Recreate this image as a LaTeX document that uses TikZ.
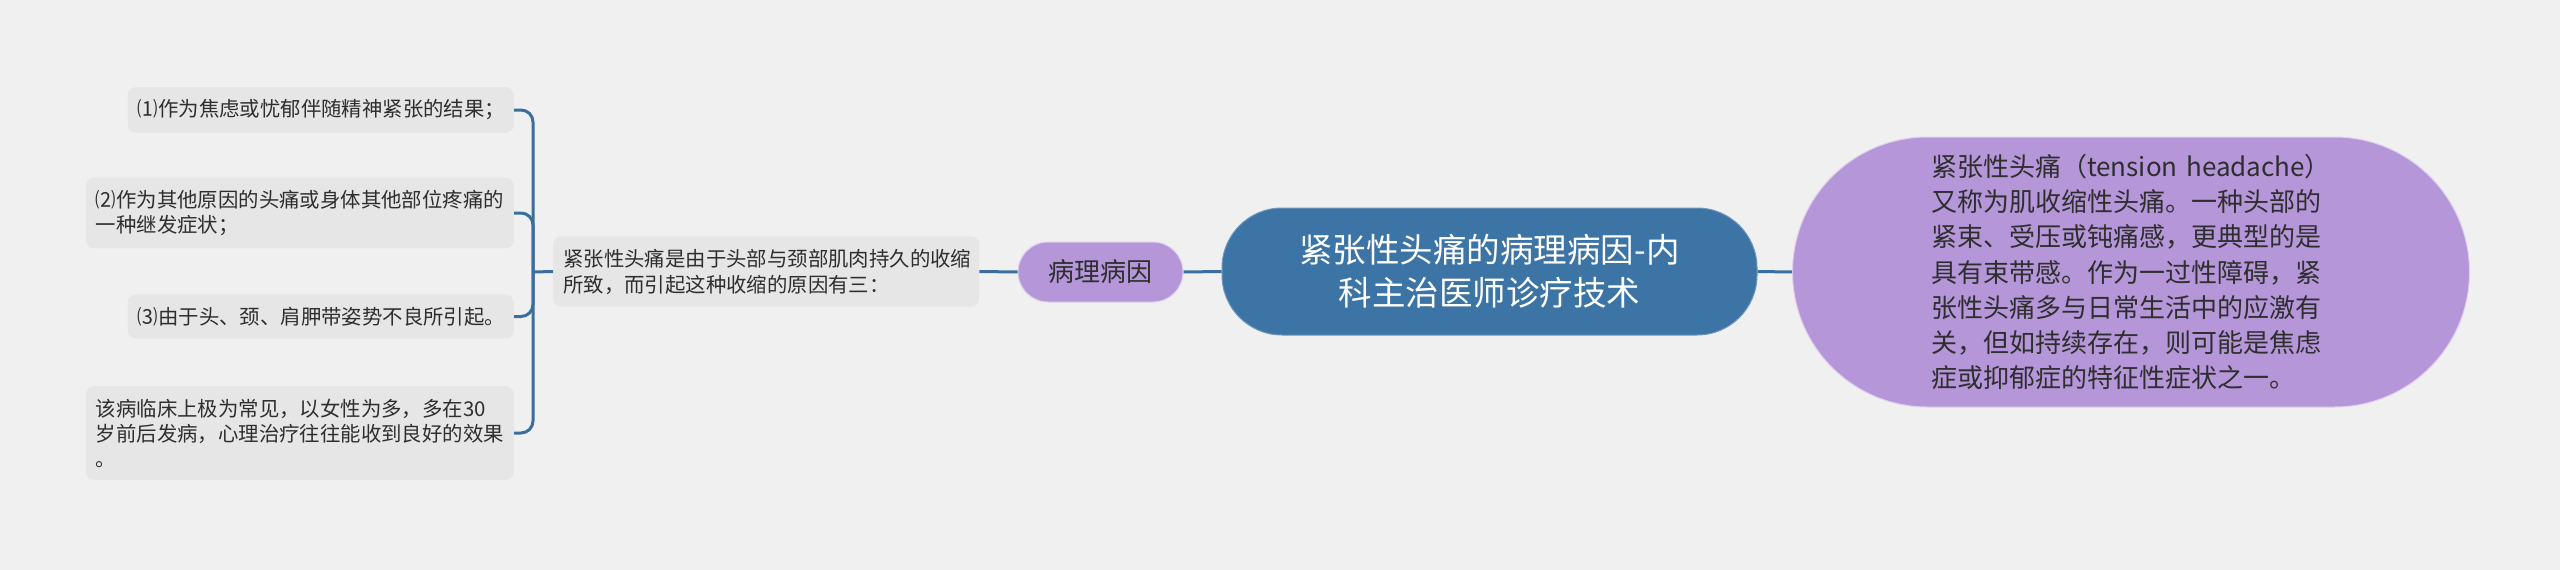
\documentclass[tikz,border=0pt]{standalone}
\usepackage{fontspec}
\setmainfont{Noto Sans CJK SC}
\usepackage{xcolor}
\usepackage{tikz}
\usetikzlibrary{positioning}

\definecolor{bgcol}{HTML}{F0F0F0}
\definecolor{leafcol}{HTML}{E6E6E6}
\definecolor{rootcol}{HTML}{3C74A5}
\definecolor{lilac}{HTML}{B596D9}
\definecolor{linecol}{HTML}{3A6E9F}
\definecolor{inkcol}{HTML}{2E2E2E}

\tikzset{
  link/.style={line width=3pt, draw=linecol, rounded corners=12pt},
  leaf/.style={fill=leafcol, rounded corners=8pt, text=inkcol, align=left,
    inner xsep=10pt, inner ysep=12.5pt, font=\fontsize{20.4}{25}\selectfont},
  pill/.style={fill=lilac, draw=white!55!lilac, line width=1pt, text=inkcol},
  rootbox/.style={fill=rootcol, draw=white!25!rootcol, line width=1pt, text=white,
    align=center, font=\fontsize{33.5}{43}\selectfont}
}

\begin{document}
\begin{tikzpicture}[x=1pt,y=-1pt]
    \fill[bgcol] (0,0) rectangle (2560,570);
    \useasboundingbox (0,0) rectangle (2560,570);
    % main topic and its two branches
    \node[rootbox, minimum width=535pt, minimum height=127pt, rounded corners=60pt]
      (root) at (1489.5,271.5) {紧张性头痛的病理病因-内\\科主治医师诊疗技术};
    \node[pill, minimum width=165pt, minimum height=60pt, rounded corners=30pt,
      font=\fontsize{26}{30}\selectfont] (cause) at (1100.5,272) {病理病因};
    \node[pill, minimum width=677pt, minimum height=270pt, rounded corners=135pt,
      text width=400pt, align=left, font=\fontsize{26}{35.2}\selectfont]
      (define) at (2131,272) {紧张性头痛（tension~headache）\\
        又称为肌收缩性头痛。一种头部的\\
        紧束、受压或钝痛感，更典型的是\\
        具有束带感。作为一过性障碍，紧\\
        张性头痛多与日常生活中的应激有\\
        关，但如持续存在，则可能是焦虑\\
        症或抑郁症的特征性症状之一。};
    % left side
    \node[leaf, text width=406pt, anchor=west, font=\fontsize{20.4}{26}\selectfont]
      (reason) at (553,271.5) {紧张性头痛是由于头部与颈部肌肉持久的收缩\\
        所致，而引起这种收缩的原因有三：};
    \node[leaf, text width=366pt, anchor=east] (itemA) at (514,110)
      {⑴作为焦虑或忧郁伴随精神紧张的结果；};
    \node[leaf, text width=408pt, anchor=east] (itemB) at (514,213)
      {⑵作为其他原因的头痛或身体其他部位疼痛的\\一种继发症状；};
    \node[leaf, text width=366pt, anchor=east] (itemC) at (514,316.5)
      {⑶由于头、颈、肩胛带姿势不良所引起。};
    \node[leaf, text width=408pt, anchor=east] (itemD) at (514,433)
      {该病临床上极为常见，以女性为多，多在30\\
        岁前后发病，心理治疗往往能收到良好的效果\\。};
    \coordinate (fork) at (533,272);
    % connectors
    \draw[link] (root.west) -- (cause.east);
    \draw[link] (cause.west) -- (reason.east);
    \draw[link] (root.east) -- (define.west);
    \draw[link] (reason.west) -- (fork);
    \draw[link] (fork) |- (itemA.east);
    \draw[link] (fork) |- (itemB.east);
    \draw[link] (fork) |- (itemC.east);
    \draw[link] (fork) |- (itemD.east);
\end{tikzpicture}
\end{document}
